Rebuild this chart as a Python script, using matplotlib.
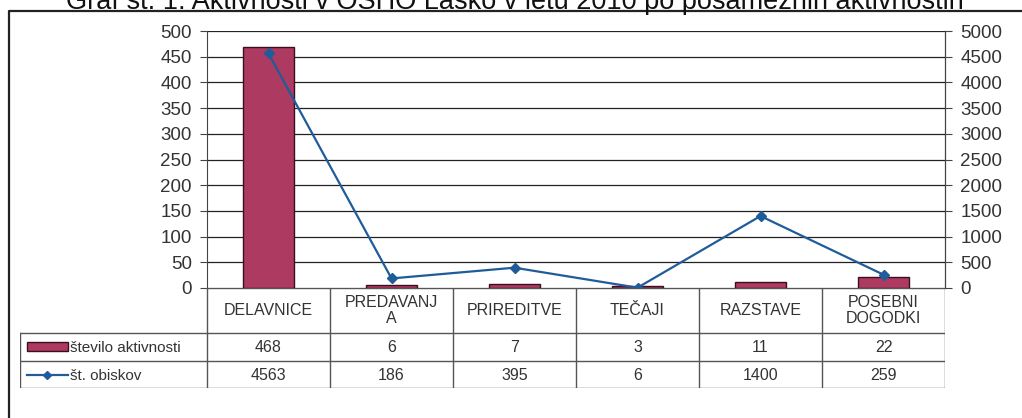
import matplotlib.pyplot as plt
from matplotlib.lines import Line2D
from matplotlib.patches import Rectangle

plt.rcParams['font.family'] = ['Liberation Sans', 'DejaVu Sans']

# data
categories = ['DELAVNICE', 'PREDAVANJ\nA', 'PRIREDITVE', 'TEČAJI', 'RAZSTAVE', 'POSEBNI\nDOGODKI']
activities = [468, 6, 7, 3, 11, 22]
visits = [4563, 186, 395, 6, 1400, 259]
bar_label = 'število aktivnosti'
line_label = 'št. obiskov'
title = 'Graf št. 1: Aktivnosti v OŠHO Laško v letu 2010 po posameznih aktivnostih'

W, H = 1022, 418
bar_color = '#AD3A60'
line_color = '#1F5C99'
text_color = '#333333'
grid_color = '#222222'

fig = plt.figure(figsize=(W / 100, H / 100), dpi=100)
fig.patch.set_facecolor('white')

def fx(p):
    return p / W

def fy(p):
    return 1 - p / H

# plot area in pixels
L, R, T, B = 207, 945, 31, 288
ax = fig.add_axes([fx(L), fy(B), fx(R - L), fy(T) - fy(B)])
x = list(range(len(categories)))
ax.bar(x, activities, width=0.42, color=bar_color, edgecolor='#3a1020', linewidth=1.0, zorder=3)
ax.set_xlim(-0.5, len(categories) - 0.5)
ax.set_ylim(0, 500)
ax.set_yticks(range(0, 501, 50))
ax.set_xticks([])
ax.yaxis.grid(True, color=grid_color, linewidth=0.9, zorder=0)
ax.set_axisbelow(True)
for s in ['top', 'bottom']:
    ax.spines[s].set_visible(False)
ax.spines['left'].set_color('#444444')
ax.tick_params(axis='y', labelsize=13.5, labelcolor=text_color, length=5, color='#444444', pad=6)

ax2 = ax.twinx()
ax2.plot(x, visits, color=line_color, linewidth=1.6, marker='D', markersize=5, zorder=4)
ax2.set_ylim(0, 5000)
ax2.set_yticks(range(0, 5001, 500))
for s in ['top', 'bottom', 'left']:
    ax2.spines[s].set_visible(False)
ax2.spines['right'].set_color('#444444')
ax2.tick_params(axis='y', labelsize=13.5, labelcolor=text_color, length=5, color='#444444', pad=6)

# data table below the chart
TL, TB = 20, 388
cw = (R - L) / len(categories)
tax = fig.add_axes([fx(TL), fy(TB), fx(R - TL), fy(B) - fy(TB)])
tax.set_xlim(-0.5 - (L - TL) / cw, len(categories) - 0.5)
tax.set_ylim(TB, B)
tax.axis('off')

def px(p):
    return -0.5 + (p - L) / cw

rows = [B, 333, 361, TB]
lc = '#555555'
# horizontal lines
tax.plot([px(L), px(R)], [rows[0], rows[0]], color=lc, lw=1.0)
for yy in rows[1:]:
    tax.plot([px(TL), px(R)], [yy, yy], color=lc, lw=1.0)
# vertical lines
for i in range(len(categories) + 1):
    xx = i - 0.5
    tax.plot([xx, xx], [rows[0], rows[3]], color=lc, lw=1.0)
tax.plot([px(TL), px(TL)], [rows[1], rows[3]], color=lc, lw=1.0)

for i, c in enumerate(categories):
    tax.text(i, (rows[0] + rows[1]) / 2, c, ha='center', va='center', fontsize=11.5,
             color=text_color, linespacing=1.15)
    tax.text(i, (rows[1] + rows[2]) / 2 + 1, str(activities[i]), ha='center', va='center',
             fontsize=11.5, color=text_color)
    tax.text(i, (rows[2] + rows[3]) / 2 + 1, str(visits[i]), ha='center', va='center',
             fontsize=11.5, color=text_color)

# legend keys
tax.add_patch(Rectangle((px(27), 342), px(68) - px(27), 9, facecolor=bar_color,
                        edgecolor='#3a1020', lw=1.0))
tax.text(px(70), (rows[1] + rows[2]) / 2 + 1, bar_label, ha='left', va='center',
         fontsize=11, color=text_color)
tax.plot([px(27), px(68)], [(rows[2] + rows[3]) / 2] * 2, color=line_color, lw=1.6)
tax.plot([px(47)], [(rows[2] + rows[3]) / 2], color=line_color, marker='D', markersize=4.5)
tax.text(px(70), (rows[2] + rows[3]) / 2 + 1, line_label, ha='left', va='center',
         fontsize=11, color=text_color)

# outer frame and title (cut at the top edge, as in the scan)
fig.add_artist(Line2D([fx(9), fx(9), 1.0], [0.0, fy(11), fy(11)], color='#222222', lw=1.6))
fig.text(fx(515), fy(9), title, ha='center', va='baseline', fontsize=19.5, color='#111111')

fig.savefig('out.png', dpi=100)
